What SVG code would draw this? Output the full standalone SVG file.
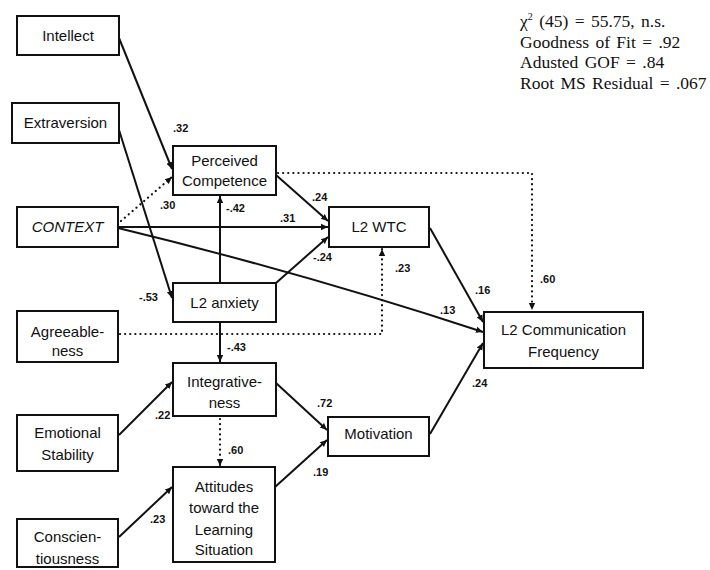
<svg xmlns="http://www.w3.org/2000/svg" width="710" height="570" viewBox="0 0 710 570">
<style>
.box{fill:#fff;stroke:#111;stroke-width:2}
.t{font-family:"Liberation Sans",Arial,sans-serif;font-size:15px;fill:#111;text-anchor:middle}
.it{font-style:italic}
.c{fill:none;stroke:#111;stroke-width:2}
.d{fill:none;stroke:#111;stroke-width:2.2;stroke-dasharray:0.1 5;stroke-linecap:round}
.n{font-family:"Liberation Sans",Arial,sans-serif;font-size:11px;font-weight:bold;fill:#111}
.s{font-family:"Liberation Serif","Times New Roman",serif;font-size:17.5px;fill:#111;word-spacing:2px}
</style>
<defs>
<marker id="a" markerWidth="8" markerHeight="8" refX="7" refY="4" orient="auto" markerUnits="userSpaceOnUse">
<path d="M0,0.8 L7,4 L0,7.2 Z" fill="#111"/>
</marker>
</defs>

<g id="connectors">
<line class="c" x1="119" y1="38" x2="172" y2="169" marker-end="url(#a)"/>
<line class="d" x1="121" y1="221" x2="172" y2="177" marker-end="url(#a)"/>
<line class="c" x1="119" y1="130" x2="172" y2="298" marker-end="url(#a)"/>
<line class="c" x1="220" y1="283" x2="220" y2="196" marker-end="url(#a)"/>
<line class="c" x1="118" y1="227" x2="328" y2="227" marker-end="url(#a)"/>
<line class="c" x1="276" y1="175" x2="328" y2="221" marker-end="url(#a)"/>
<line class="c" x1="276" y1="283" x2="328" y2="237" marker-end="url(#a)"/>
<path class="c" d="M118,228 Q300,272 483,332" marker-end="url(#a)"/>
<line class="c" x1="430" y1="228" x2="483" y2="322" marker-end="url(#a)"/>
<line class="c" x1="430" y1="434" x2="483" y2="343" marker-end="url(#a)"/>
<path class="d" d="M278,173 L532,173 L532,310" marker-end="url(#a)"/>
<path class="d" d="M120,334 L382,334 L382,249" marker-end="url(#a)"/>
<line class="c" x1="220" y1="322" x2="220" y2="362" marker-end="url(#a)"/>
<line class="c" x1="119" y1="435" x2="172" y2="382" marker-end="url(#a)"/>
<line class="d" x1="220" y1="419" x2="220" y2="466" marker-end="url(#a)"/>
<line class="c" x1="276" y1="383" x2="327" y2="430" marker-end="url(#a)"/>
<line class="c" x1="275" y1="487" x2="327" y2="440" marker-end="url(#a)"/>
<line class="c" x1="119" y1="537" x2="172" y2="487" marker-end="url(#a)"/>
<text class="n" x="173" y="132">.32</text>
<text class="n" x="160" y="209">.30</text>
<text class="n" x="139" y="301">-.53</text>
<text class="n" x="226" y="212">-.42</text>
<text class="n" x="280" y="222">.31</text>
<text class="n" x="312" y="201">.24</text>
<text class="n" x="313" y="261">-.24</text>
<text class="n" x="395" y="272">.23</text>
<text class="n" x="475" y="294">.16</text>
<text class="n" x="540" y="283">.60</text>
<text class="n" x="440" y="314">.13</text>
<text class="n" x="472" y="387">.24</text>
<text class="n" x="227" y="351">-.43</text>
<text class="n" x="155" y="419">.22</text>
<text class="n" x="317" y="407">.72</text>
<text class="n" x="228" y="454">.60</text>
<text class="n" x="313" y="476">.19</text>
<text class="n" x="150" y="523">.23</text>
</g>

<g id="intellect"><rect class="box" x="17" y="16" width="102" height="39"/><text class="t" x="68" y="41">Intellect</text></g>
<g id="extraversion"><rect class="box" x="12" y="103" width="107" height="40"/><text class="t" x="65.5" y="128">Extraversion</text></g>
<g id="context"><rect class="box" x="17" y="207" width="101" height="40"/><text class="t it" x="67.5" y="232">CONTEXT</text></g>
<g id="agreeableness"><rect class="box" x="17" y="311" width="101" height="51"/><text class="t" x="67.5" y="337">Agreeable-</text><text class="t" x="67.5" y="356">ness</text></g>
<g id="emotional-stability"><rect class="box" x="17" y="415" width="101" height="56"/><text class="t" x="67.5" y="438">Emotional</text><text class="t" x="67.5" y="460">Stability</text></g>
<g id="conscientiousness"><rect class="box" x="17" y="519" width="101" height="48"/><text class="t" x="67.5" y="542">Conscien-</text><text class="t" x="67.5" y="564">tiousness</text></g>
<g id="perceived-competence"><rect class="box" x="173" y="146" width="103" height="49"/><text class="t" x="224.5" y="166">Perceived</text><text class="t" x="224.5" y="186">Competence</text></g>
<g id="l2-anxiety"><rect class="box" x="173" y="283" width="103" height="39"/><text class="t" x="224.5" y="308">L2 anxiety</text></g>
<g id="integrativeness"><rect class="box" x="173" y="363" width="103" height="53"/><text class="t" x="224.5" y="387">Integrative-</text><text class="t" x="224.5" y="408">ness</text></g>
<g id="attitudes"><rect class="box" x="173" y="467" width="102" height="95"/><text class="t" x="224" y="492">Attitudes</text><text class="t" x="224" y="513">toward the</text><text class="t" x="224" y="535">Learning</text><text class="t" x="224" y="555">Situation</text></g>
<g id="l2-wtc"><rect class="box" x="329" y="207" width="100" height="40"/><text class="t" x="379" y="232">L2 WTC</text></g>
<g id="motivation"><rect class="box" x="328" y="417" width="101" height="39"/><text class="t" x="378.5" y="439">Motivation</text></g>
<g id="l2-comm-freq"><rect class="box" x="484" y="312" width="159" height="56"/><text class="t" x="563.5" y="335">L2 Communication</text><text class="t" x="563.5" y="357">Frequency</text></g>

<g id="fit-stats">
<text class="s" x="520" y="27">χ<tspan font-size="10" dy="-7">2</tspan><tspan dy="7"> (45) = 55.75, n.s.</tspan></text>
<text class="s" x="520" y="48">Goodness of Fit = .92</text>
<text class="s" x="520" y="68">Adusted GOF = .84</text>
<text class="s" x="520" y="89">Root MS Residual = .067</text>
</g>
</svg>
